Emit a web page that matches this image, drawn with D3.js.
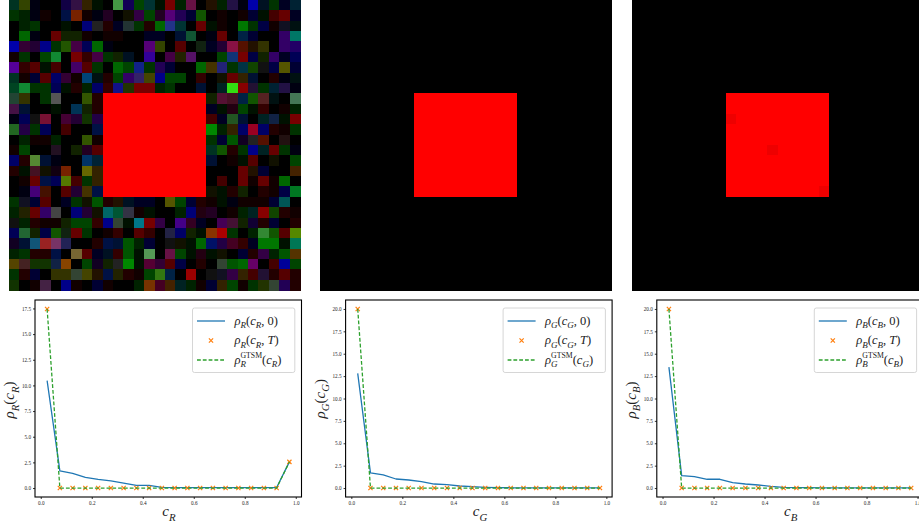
<!DOCTYPE html>
<html><head><meta charset="utf-8">
<script src="https://cdn.jsdelivr.net/npm/d3@7"></script>
<style>body{margin:0;background:#fff}svg{display:block}</style>
</head><body>
<svg id="c" width="919" height="527"></svg>
<script>
// ---------- DATA ----------
// 28x28 input image (cell colours as 3-digit hex)
const noiseRows = [
"032 340 001 000 000 104 314 320 010 000 494 105 040 033 010 700 020 614 000 210 020 214 001 00a 012 030 002 023",
"030 020 001 100 000 014 720 100 001 202 000 110 304 040 202 507 205 003 150 000 100 000 100 003 010 400 600 002",
"000 020 030 000 000 010 000 007 222 200 002 233 030 200 060 238 033 000 600 010 100 000 070 030 004 100 112 011",
"000 060 001 000 600 120 120 100 000 100 100 000 000 002 002 000 013 153 000 001 600 000 024 003 000 000 306 076",
"00a 303 203 008 030 250 404 005 060 001 000 000 000 507 340 000 500 000 121 002 203 814 510 210 330 000 306 206",
"100 030 000 040 183 000 700 300 404 030 120 012 000 309 000 404 220 516 000 000 040 137 700 004 120 306 002 005",
"509 300 500 010 400 000 406 500 030 000 060 040 128 030 205 003 000 000 060 430 227 030 034 140 111 004 550 003",
"032 100 003 500 006 303 100 047 011 200 040 306 326 440 008 040 040 000 300 000 110 600 320 013 000 200 001 011",
"042 183 030 030 005 010 200 020 006 300 118 230 700 700 020 030 000 000 013 000 022 3d1 800 213 030 023 214 001",
"243 330 000 030 555 000 000 350 200 f00 f00 f00 f00 f00 f00 f00 f00 f00 f00 120 513 412 024 150 522 011 000 475",
"414 013 000 000 010 000 035 120 200 f00 f00 f00 f00 f00 f00 f00 f00 f00 f00 002 010 201 040 010 300 000 100 020",
"001 005 111 713 000 403 203 130 204 f00 f00 f00 f00 f00 f00 f00 f00 f00 f00 400 002 252 013 000 022 124 010 700",
"262 204 030 005 000 400 000 000 014 f00 f00 f00 f00 f00 f00 f00 f00 f00 f00 080 020 320 006 902 006 200 100 030",
"000 020 100 100 020 000 000 350 100 f00 f00 f00 f00 f00 f00 f00 f00 f00 f00 030 003 050 102 222 510 000 211 000",
"100 040 000 000 212 000 120 202 500 f00 f00 f00 f00 f00 f00 f00 f00 f00 f00 032 150 200 030 008 022 600 030 001",
"006 200 583 013 001 000 000 036 023 f00 f00 f00 f00 f00 f00 f00 f00 f00 f00 013 000 100 010 500 000 110 000 040",
"200 010 412 110 101 720 000 660 320 f00 f00 f00 f00 f00 f00 f00 f00 f00 f00 000 000 000 600 210 003 000 000 420",
"000 100 600 014 005 570 400 030 320 f00 f00 f00 f00 f00 f00 f00 f00 f00 f00 000 400 000 600 100 600 100 060 000",
"000 001 407 410 000 500 203 430 014 f00 f00 f00 f00 f00 f00 f00 f00 f00 f00 110 010 200 120 000 200 100 004 072",
"030 112 003 500 000 002 030 110 050 200 210 012 002 002 000 550 040 003 200 100 010 001 100 100 100 003 055 000",
"020 220 600 306 444 000 007 203 110 066 053 334 100 010 000 000 020 007 201 202 000 100 020 022 800 140 200 100",
"111 020 200 100 100 120 040 040 300 008 343 010 078 700 304 000 408 302 002 000 405 413 120 103 200 003 000 200",
"005 263 120 004 150 121 600 030 000 100 300 000 500 300 000 224 006 120 010 830 a00 030 000 020 383 150 500 580",
"102 013 157 922 736 225 000 000 200 014 013 050 020 003 000 111 110 010 060 016 204 402 300 002 070 070 010 075",
"020 030 200 200 014 000 763 500 002 012 300 050 010 595 000 614 040 010 201 010 110 000 003 200 304 020 050 530",
"540 422 130 130 124 840 000 040 102 120 222 080 010 503 303 500 004 000 200 000 343 050 060 606 000 400 009 040",
"030 200 003 000 330 330 343 440 210 014 220 200 100 040 371 024 000 900 000 111 112 304 320 400 213 200 500 200",
"130 000 100 424 000 008 100 000 003 100 000 000 020 730 402 420 022 020 100 003 320 040 100 030 230 343 205 200"
];
// red square (rows/cols 9..18) in the 2nd and 3rd images, and darker cells of the 3rd
const squareFirst = 9, squareLast = 18;
const darkCells = [[11, 9], [14, 13], [18, 18]];
const darkCellColor = "e00";

// histogram bin centres
const bins = [0.025,0.075,0.125,0.175,0.225,0.275,0.325,0.375,0.425,0.475,0.525,0.575,0.625,0.675,0.725,0.775,0.825,0.875,0.925,0.975];
// R channel
const rhoR0 = [10.47,1.67,1.44,1.05,0.85,0.69,0.49,0.26,0.26,0.07,0.05,0.05,0.05,0.05,0.05,0.05,0.05,0.05,0.05,2.55];
const rhoRT = [17.45,0,0,0,0,0,0,0,0,0,0,0,0,0,0,0,0,0,0,2.55];
const rhoRG = [17.45,0,0,0,0,0,0,0,0,0,0,0,0,0,0,0,0,0,0,2.55];
// G channel
const rhoG0 = [12.8,1.69,1.47,1.01,0.9,0.71,0.45,0.38,0.23,0.15,0.08,0.04,0.03,0.02,0.02,0.02,0.02,0.02,0.02,0.02];
const rhoGT = [20,0,0,0,0,0,0,0,0,0,0,0,0,0,0,0,0,0,0,0];
const rhoGG = [20,0,0,0,0,0,0,0,0,0,0,0,0,0,0,0,0,0,0,0];
// B channel
const rhoB0 = [13.5,1.39,1.28,0.98,0.98,0.6,0.45,0.34,0.19,0.08,0.05,0.04,0.03,0.03,0.03,0.03,0.03,0.03,0.03,0.03];
const rhoBT = [20,0,0,0,0,0,0,0,0,0,0,0,0,0,0,0,0,0,0,0];
const rhoBG = [20,0,0,0,0,0,0,0,0,0,0,0,0,0,0,0,0,0,0,0];

const channels = ["R","G","B"];
const xTicks = [0,0.2,0.4,0.6,0.8,1.0];
const yTicksR = [0,2.5,5,7.5,10,12.5,15,17.5];
const yTicksGB = [0,2.5,5,7.5,10,12.5,15,17.5,20];

// ---------- DRAW ----------
const W = 919, H = 527;
const svg = d3.select("#c");
svg.append("rect").attr("width", W).attr("height", H).attr("fill", "#fff");
const hex3 = c => "#" + c.split("").map(d => d + d).join("");
const FONT = "'Liberation Serif','DejaVu Serif',serif";

const grid = noiseRows.map(r => r.split(" "));
const imgW = 291, imgH = 290, imgTop = 0;
const imgLefts = [9, 320, 632];
const img2 = d3.range(28).map(i => d3.range(28).map(j =>
  (i >= squareFirst && i <= squareLast && j >= squareFirst && j <= squareLast) ? "f00" : "000"));
const img3 = img2.map(r => r.slice());
darkCells.forEach(([i, j]) => img3[i][j] = darkCellColor);

function drawImage(x0, cells) {
  const xb = d3.scaleBand().domain(d3.range(28)).range([x0, x0 + imgW]);
  const yb = d3.scaleBand().domain(d3.range(28)).range([imgTop, imgTop + imgH]);
  const g = svg.append("g").attr("shape-rendering", "crispEdges");
  const data = [];
  cells.forEach((row, i) => row.forEach((c, j) => data.push({i, j, c})));
  g.selectAll("rect").data(data).join("rect")
    .attr("x", d => xb(d.j)).attr("y", d => yb(d.i))
    .attr("width", xb.bandwidth() + 0.6).attr("height", yb.bandwidth() + 0.6)
    .attr("fill", d => hex3(d.c));
}
drawImage(imgLefts[0], grid);
drawImage(imgLefts[1], img2);
drawImage(imgLefts[2], img3);

// math text helper: parts = [[text, kind]], kind: i (italic), r (roman), si (sub italic), sr (sup roman, aligned over previous sub)
function mathText(t, parts, fs) {
  let shift = 0, lastSubLen = 0;
  parts.forEach(([txt, kind]) => {
    const sp = t.append("tspan").text(txt);
    let target = 0, size = fs, italic = false;
    if (kind === "i") { italic = true; }
    if (kind === "si") { italic = true; size = fs * 0.72; target = fs * 0.3; }
    if (kind === "sr") { size = fs * 0.62; target = -fs * 0.42; }
    sp.attr("font-size", size).attr("font-style", italic ? "italic" : "normal");
    sp.attr("dy", target - shift);
    shift = target;
    if (kind === "sr" && lastSubLen) sp.attr("dx", -lastSubLen);
    if (kind === "si") lastSubLen = sp.node().getComputedTextLength(); else lastSubLen = 0;
  });
}

const plotLefts = [35, 345.6, 656.8];
const plotW = 266.5, plotTop = 300, plotH = 197;
const series = [
  [rhoR0, rhoRT, rhoRG, yTicksR],
  [rhoG0, rhoGT, rhoGG, yTicksGB],
  [rhoB0, rhoBT, rhoBG, yTicksGB]
];
const C0 = "#1f77b4", CT = "#ff7f0e", CG = "#2ca02c";

channels.forEach((ch, k) => {
  const [s0, sT, sG, yTicks] = series[k];
  const L = plotLefts[k];
  const xmin = d3.min(bins), xmax = d3.max(bins), xp = 0.05 * (xmax - xmin);
  const x = d3.scaleLinear().domain([xmin - xp, xmax + xp]).range([L, L + plotW]);
  const all = s0.concat(sT, sG);
  const ymin = d3.min(all), ymax = d3.max(all), yp = 0.05 * (ymax - ymin);
  const y = d3.scaleLinear().domain([ymin - yp, ymax + yp]).range([plotTop + plotH, plotTop]);
  const g = svg.append("g");

  const clipId = "clip" + k;
  svg.append("clipPath").attr("id", clipId).append("rect")
    .attr("x", L).attr("y", plotTop).attr("width", plotW).attr("height", plotH);
  const pg = g.append("g").attr("clip-path", `url(#${clipId})`);
  const line = d3.line().x((d, i) => x(bins[i])).y(d => y(d));
  pg.append("path").datum(s0).attr("d", line).attr("fill", "none")
    .attr("stroke", C0).attr("stroke-width", 1.3).attr("stroke-linejoin", "round");
  const ms = 2.1;
  pg.selectAll(".mk").data(sT).join("path").attr("class", "mk")
    .attr("d", (d, i) => { const cx = x(bins[i]), cy = y(d);
      return `M${cx-ms},${cy-ms}L${cx+ms},${cy+ms}M${cx-ms},${cy+ms}L${cx+ms},${cy-ms}`; })
    .attr("stroke", CT).attr("stroke-width", 1.2).attr("fill", "none");
  pg.append("path").datum(sG).attr("d", line).attr("fill", "none")
    .attr("stroke", CG).attr("stroke-width", 1.3).attr("stroke-dasharray", "3.8,2");

  // axes
  const xAxis = d3.axisBottom(x).tickValues(xTicks).tickFormat(d3.format(".1f")).tickSize(2).tickPadding(2);
  const yAxis = d3.axisLeft(y).tickValues(yTicks).tickFormat(d3.format(".1f")).tickSize(2).tickPadding(2);
  const gx = g.append("g").attr("transform", `translate(0,${plotTop + plotH})`).call(xAxis);
  const gy = g.append("g").attr("transform", `translate(${L},0)`).call(yAxis);
  [gx, gy].forEach(a => {
    a.select(".domain").remove();
    a.selectAll("line").attr("stroke", "#000").attr("stroke-width", 0.8);
    a.selectAll("text").attr("font-family", FONT).attr("font-size", 5.2).attr("fill", "#222");
  });
  g.append("rect").attr("x", L).attr("y", plotTop).attr("width", plotW).attr("height", plotH)
    .attr("fill", "none").attr("stroke", "#000").attr("stroke-width", 1.1);

  // axis labels
  const xl = g.append("text").attr("x", L + plotW / 2 - 6).attr("y", 516)
    .attr("font-family", FONT).attr("fill", "#222");
  mathText(xl, [["c", "i"], [ch, "si"]], 15);
  const yl = g.append("text").attr("transform", `translate(${L - 21},${plotTop + plotH / 2 + 20}) rotate(-90)`)
    .attr("font-family", FONT).attr("fill", "#222");
  mathText(yl, [["ρ", "i"], [ch, "si"], ["(", "r"], ["c", "i"], [ch, "si"], [")", "r"]], 15);

  // legend
  const lw = 102.3, lh = 64.5;
  const lx = L + plotW - 6.7 - lw, ly = plotTop + 8;
  const lg = g.append("g");
  lg.append("rect").attr("x", lx).attr("y", ly).attr("width", lw).attr("height", lh)
    .attr("rx", 2).attr("fill", "#fff").attr("fill-opacity", 0.8)
    .attr("stroke", "#ccc").attr("stroke-width", 0.8);
  const rows = [ly + 13, ly + 32.5, ly + 52];
  const hx0 = lx + 4.5, hx1 = lx + 32.5, tx = lx + 42;
  lg.append("line").attr("x1", hx0).attr("x2", hx1).attr("y1", rows[0]).attr("y2", rows[0])
    .attr("stroke", C0).attr("stroke-width", 1.3);
  const mc = (hx0 + hx1) / 2;
  lg.append("path").attr("d", `M${mc-ms},${rows[1]-ms}L${mc+ms},${rows[1]+ms}M${mc-ms},${rows[1]+ms}L${mc+ms},${rows[1]-ms}`)
    .attr("stroke", CT).attr("stroke-width", 1.2);
  lg.append("line").attr("x1", hx0).attr("x2", hx1).attr("y1", rows[2]).attr("y2", rows[2])
    .attr("stroke", CG).attr("stroke-width", 1.3).attr("stroke-dasharray", "3.8,2");
  const labels = [
    [["ρ", "i"], [ch, "si"], ["(", "r"], ["c", "i"], [ch, "si"], [", 0)", "r"]],
    [["ρ", "i"], [ch, "si"], ["(", "r"], ["c", "i"], [ch, "si"], [", ", "r"], ["T", "i"], [")", "r"]],
    [["ρ", "i"], [ch, "si"], ["GTSM", "sr"], ["(", "r"], ["c", "i"], [ch, "si"], [")", "r"]]
  ];
  labels.forEach((p, i) => {
    const t = lg.append("text").attr("x", tx).attr("y", rows[i] + 3.5)
      .attr("font-family", FONT).attr("fill", "#222");
    mathText(t, p, 12.5);
  });
});
</script>
</body></html>
